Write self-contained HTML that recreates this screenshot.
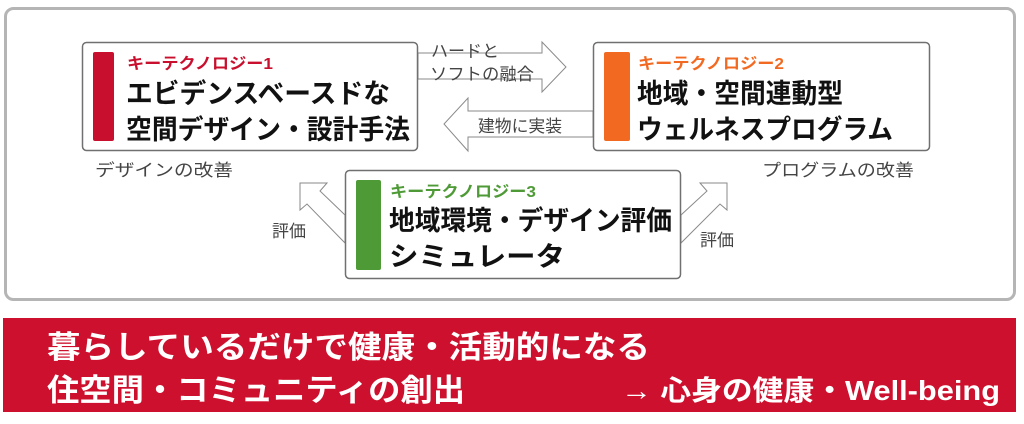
<!DOCTYPE html>
<html><head><meta charset="utf-8"><style>
body{margin:0;width:1024px;height:424px;background:#fff;overflow:hidden}
svg{display:block}
text{font-family:"Liberation Sans","Noto Sans CJK JP",sans-serif}
</style></head><body>
<svg width="1024" height="424" viewBox="0 0 1024 424">
<rect x="5.5" y="8.5" width="1009" height="291" rx="8" fill="#fff" stroke="#b5b5b5" stroke-width="3"/>
<polygon points="418,53 542,53 542,42 566,67 542,92 542,79 418,79" fill="#fff" stroke="#8a8a8a" stroke-width="1"/>
<polygon points="593,111 468,111 468,98 444,124 468,151 468,137 593,137" fill="#fff" stroke="#8a8a8a" stroke-width="1"/>
<polygon points="300,183 327,183 320,191 345,215 345,243 307,204 300,210" fill="#fff" stroke="#8a8a8a" stroke-width="1"/>
<polygon points="727,183 700,183 707,191 681,215 681,243 720,204 727,210" fill="#fff" stroke="#8a8a8a" stroke-width="1"/>
<text x="431" y="57" font-size="17" fill="#444" textLength="68" lengthAdjust="spacingAndGlyphs">ハードと</text>
<text x="430" y="80" font-size="17" fill="#444" textLength="104" lengthAdjust="spacingAndGlyphs">ソフトの融合</text>
<text x="478" y="132" font-size="17" fill="#444" textLength="84" lengthAdjust="spacingAndGlyphs">建物に実装</text>
<text x="95" y="176" font-size="17" fill="#444" textLength="138" lengthAdjust="spacingAndGlyphs">デザインの改善</text>
<text x="762" y="176" font-size="17" fill="#444" textLength="152" lengthAdjust="spacingAndGlyphs">プログラムの改善</text>
<text x="272" y="237" font-size="17" fill="#444">評価</text>
<text x="700" y="246" font-size="17" fill="#444">評価</text>
<rect x="82.5" y="42.5" width="335" height="108" rx="4" fill="#fff" stroke="#707070" stroke-width="1.5"/>
<rect x="93" y="52" width="21" height="89" rx="2" fill="#c8102e"/>
<text x="127" y="69" font-size="16" font-weight="bold" fill="#c8102e" textLength="146" lengthAdjust="spacingAndGlyphs">キーテクノロジー1</text>
<text x="126" y="103" font-size="27" font-weight="bold" fill="#111" textLength="264" lengthAdjust="spacingAndGlyphs">エビデンスベースドな</text>
<text x="126" y="139" font-size="27" font-weight="bold" fill="#111" textLength="284" lengthAdjust="spacingAndGlyphs">空間デザイン・設計手法</text>
<rect x="593.5" y="42.5" width="336" height="108" rx="4" fill="#fff" stroke="#707070" stroke-width="1.5"/>
<rect x="604" y="52" width="26" height="89" rx="2" fill="#f26a21"/>
<text x="638" y="69" font-size="16" font-weight="bold" fill="#f26a21" textLength="146" lengthAdjust="spacingAndGlyphs">キーテクノロジー2</text>
<text x="637" y="103" font-size="27" font-weight="bold" fill="#111" textLength="206" lengthAdjust="spacingAndGlyphs">地域・空間連動型</text>
<text x="637" y="139" font-size="27" font-weight="bold" fill="#111" textLength="256" lengthAdjust="spacingAndGlyphs">ウェルネスプログラム</text>
<rect x="345.5" y="170.5" width="335" height="108" rx="4" fill="#fff" stroke="#707070" stroke-width="1.5"/>
<rect x="356" y="180" width="25" height="90" rx="2" fill="#4e9a36"/>
<text x="390" y="197" font-size="16" font-weight="bold" fill="#4e9a36" textLength="146" lengthAdjust="spacingAndGlyphs">キーテクノロジー3</text>
<text x="389" y="230" font-size="27" font-weight="bold" fill="#111" textLength="283" lengthAdjust="spacingAndGlyphs">地域環境・デザイン評価</text>
<text x="389" y="266" font-size="27" font-weight="bold" fill="#111" textLength="176" lengthAdjust="spacingAndGlyphs">シミュレータ</text>
<rect x="3" y="318" width="1013" height="94" fill="#cc102d"/>
<text x="47" y="358" font-size="31" font-weight="bold" fill="#fff" textLength="603" lengthAdjust="spacingAndGlyphs">暮らしているだけで健康・活動的になる</text>
<text x="47" y="401" font-size="31" font-weight="bold" fill="#fff" textLength="418" lengthAdjust="spacingAndGlyphs">住空間・コミュニティの創出</text>
<text x="621" y="400" font-size="28" font-weight="bold" fill="#fff" textLength="379" lengthAdjust="spacingAndGlyphs">→ 心身の健康・Well-being</text>
</svg>
</body></html>
